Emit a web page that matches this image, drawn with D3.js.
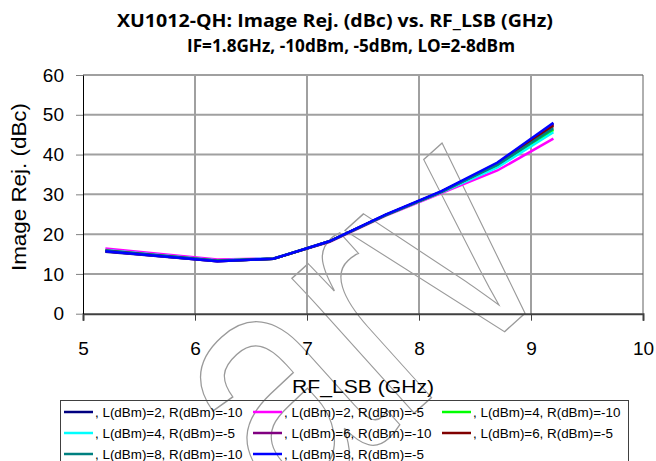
<!DOCTYPE html>
<html lang="en">
<head>
<meta charset="utf-8">
<script src="https://d3js.org/d3.v7.min.js"></script>
<style>
  body { margin: 0; background: #fff; }
  text { font-family: "Liberation Sans", Arial, sans-serif; }
</style>
</head>
<body>
<script>
// frequency points (GHz)
const freq = [5.2, 6.2, 6.7, 7.2, 7.7, 8.2, 8.7, 9.2];

// image rejection (dBc) per LO / RF drive
const l2r10 = [15.6, 13.2, 13.8, 18.2, 24.8, 30.7, 37.8, 47.7];
const l2r5  = [16.4, 13.6, 13.9, 18.0, 24.6, 30.3, 36.0, 44.0];
const l4r10 = [15.8, 13.3, 13.8, 18.1, 24.7, 30.6, 37.0, 46.2];
const l4r5  = [16.0, 13.4, 13.9, 18.1, 24.7, 30.5, 36.8, 45.6];
const l6r10 = [15.7, 13.2, 13.8, 18.2, 24.8, 30.7, 37.7, 47.5];
const l6r5  = [15.9, 13.3, 13.8, 18.1, 24.8, 30.6, 37.6, 47.2];
const l8r10 = [15.8, 13.3, 13.8, 18.2, 24.8, 30.6, 37.4, 46.6];
const l8r5  = [15.7, 13.2, 13.8, 18.2, 24.9, 30.8, 38.0, 48.0];

const seriesNames = [", L(dBm)=2, R(dBm)=-10", ", L(dBm)=2, R(dBm)=-5", ", L(dBm)=4, R(dBm)=-10",
                     ", L(dBm)=4, R(dBm)=-5", ", L(dBm)=6, R(dBm)=-10", ", L(dBm)=6, R(dBm)=-5",
                     ", L(dBm)=8, R(dBm)=-10", ", L(dBm)=8, R(dBm)=-5"];
const seriesColors = ["#000080", "#ff00ff", "#00ff00", "#00ffff", "#800080", "#800000", "#008080", "#0000ff"];
const seriesValues = [l2r10, l2r5, l4r10, l4r5, l6r10, l6r5, l8r10, l8r5];

const xTicks = [5, 6, 7, 8, 9, 10];
const yTicks = [0, 10, 20, 30, 40, 50, 60];

const width = 656, height = 461;
const plotLeft = 83, plotRight = 643, plotTop = 75, plotBottom = 313.7;

const svg = d3.select("body").append("svg")
    .attr("width", width).attr("height", height);

const x = d3.scaleLinear().domain([5, 10]).range([plotLeft, plotRight]);
const y = d3.scaleLinear().domain([0, 60]).range([plotBottom, plotTop]);

// watermark outline (behind everything)
svg.append("text").attr("transform", "translate(291,524) rotate(-42) scale(1,1.3)")
    .style("font-size", "265px")
    .attr("fill", "none").attr("stroke", "#9a9a9a").attr("stroke-width", 1.1)
    .text("arv");

// titles
svg.append("text").attr("x", 335).attr("y", 27).attr("text-anchor", "middle")
    .attr("textLength", 436).attr("lengthAdjust", "spacingAndGlyphs")
    .style("font-family", "'Open Sans', sans-serif").style("font-weight", "bold").style("font-size", "18px")
    .text("XU1012-QH: Image Rej. (dBc) vs. RF_LSB (GHz)");
svg.append("text").attr("x", 351).attr("y", 52).attr("text-anchor", "middle")
    .attr("textLength", 328).attr("lengthAdjust", "spacingAndGlyphs")
    .style("font-family", "'Open Sans', sans-serif").style("font-weight", "bold").style("font-size", "18px")
    .text("IF=1.8GHz, -10dBm, -5dBm, LO=2-8dBm");

// gridlines
svg.append("g").selectAll("line").data(yTicks.filter(d => d > 0)).join("line")
    .attr("x1", plotLeft).attr("x2", plotRight).attr("y1", d => y(d)).attr("y2", d => y(d))
    .attr("stroke", "#a0a0a0").attr("stroke-width", 2);
svg.append("g").selectAll("line").data(xTicks.filter(d => d > 5 && d < 10)).join("line")
    .attr("x1", d => x(d)).attr("x2", d => x(d)).attr("y1", plotTop).attr("y2", plotBottom)
    .attr("stroke", "#a0a0a0").attr("stroke-width", 2);
svg.append("line").attr("x1", plotRight).attr("x2", plotRight).attr("y1", plotTop).attr("y2", plotBottom)
    .attr("stroke", "#606060").attr("stroke-width", 1);

// axes
const xAxis = svg.append("g").attr("transform", `translate(0,${plotBottom})`)
    .call(d3.axisBottom(x).tickValues(xTicks).tickSize(7).tickPadding(21).tickFormat(d3.format("d")));
xAxis.select(".domain").attr("stroke", "#404040").attr("stroke-width", 2);
xAxis.selectAll(".tick line").attr("stroke", "#404040");
xAxis.selectAll(".tick text").style("font-size", "19px").attr("fill", "#000").attr("font-family", null);

const yAxis = svg.append("g").attr("transform", `translate(${plotLeft},0)`)
    .call(d3.axisLeft(y).tickValues(yTicks).tickSize(7).tickPadding(12).tickSizeOuter(0));
yAxis.select(".domain").attr("stroke", "#000").attr("stroke-width", 1);
yAxis.selectAll(".tick line").attr("stroke", "#808080");
yAxis.selectAll(".tick text").style("font-size", "19px").attr("fill", "#000").attr("font-family", null);

svg.append("text").attr("x", x(7.5)).attr("y", 393).attr("text-anchor", "middle")
    .attr("textLength", 142).attr("lengthAdjust", "spacingAndGlyphs")
    .style("font-size", "18px").text("RF_LSB (GHz)");
svg.append("text").attr("transform", "translate(26,187) rotate(-90)")
    .attr("text-anchor", "middle").attr("textLength", 168).attr("lengthAdjust", "spacingAndGlyphs")
    .style("font-size", "19.5px").text("Image Rej. (dBc)");

// series lines
const line = d3.line().x((d, i) => x(freq[i])).y(d => y(d));
svg.append("g").selectAll("path").data(seriesValues).join("path")
    .attr("d", line).attr("fill", "none")
    .attr("stroke", (d, i) => seriesColors[i]).attr("stroke-width", 2.5);

// legend
const legend = svg.append("g");
legend.append("rect").attr("x", 60.5).attr("y", 400.5).attr("width", 568).attr("height", 80)
    .attr("fill", "none").attr("stroke", "#404040").attr("stroke-width", 1);
const item = legend.selectAll("g.item").data(seriesNames).join("g").attr("class", "item")
    .attr("transform", (d, i) => `translate(${64 + (i % 3) * 189},${412 + Math.floor(i / 3) * 21})`);
item.append("line").attr("x1", 0).attr("x2", 29).attr("y1", 0).attr("y2", 0)
    .attr("stroke", (d, i) => seriesColors[i]).attr("stroke-width", 2.5);
item.append("text").attr("x", 31).attr("y", 4.5).style("font-size", "13.4px").text(d => d);
</script>
</body>
</html>
